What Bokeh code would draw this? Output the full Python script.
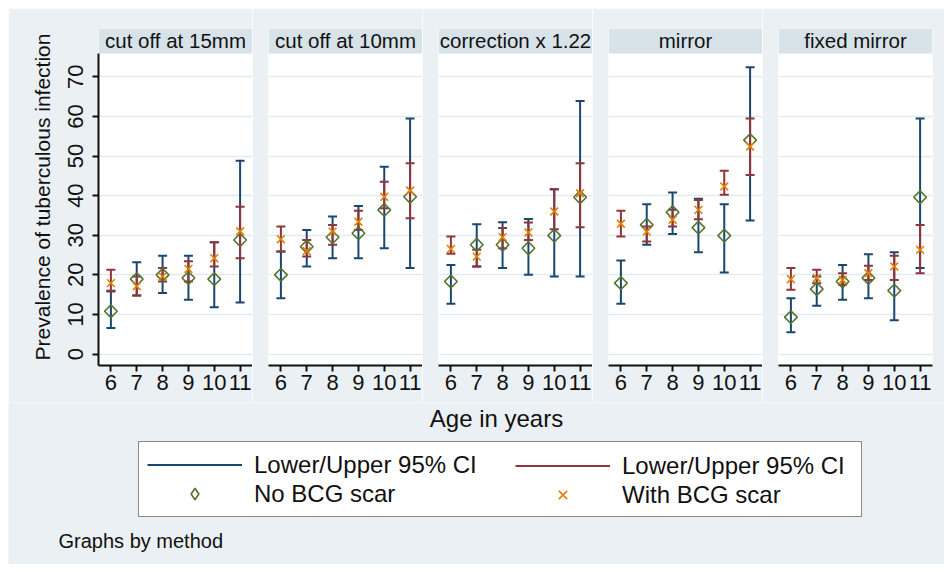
import numpy as np
from bokeh.plotting import figure
from bokeh.models import (ColumnDataSource, Whisker, TeeHead, Label, Legend, LegendItem,
                          Range1d, FixedTicker, BoxAnnotation, Spacer)
from bokeh.layouts import row, column
from bokeh.embed import file_html
from bokeh.resources import INLINE

# ---------------- data ----------------
methods = ["cut off at 15mm", "cut off at 10mm", "correction x 1.22", "mirror", "fixed mirror"]
ages = [6, 7, 8, 9, 10, 11]
y_ticks = [0, 10, 20, 30, 40, 50, 60, 70]

# No BCG scar (one row per method)
no_scar_est = [
    [10.8, 18.9, 20.0, 19.2, 18.9, 28.8],
    [20.0, 27.1, 29.5, 30.5, 36.4, 39.7],
    [18.3, 27.6, 27.6, 26.7, 29.9, 39.6],
    [17.9, 32.6, 35.8, 31.9, 29.9, 54.0],
    [9.3, 16.4, 18.3, 19.2, 16.0, 39.6],
]
no_scar_lo = [
    [6.6, 14.8, 15.4, 13.7, 11.8, 13.0],
    [14.1, 22.1, 24.2, 24.2, 26.7, 21.7],
    [12.7, 22.1, 21.7, 20.0, 19.6, 19.6],
    [12.7, 27.6, 30.3, 25.7, 20.6, 33.7],
    [5.5, 12.2, 13.7, 14.1, 8.5, 21.7],
]
no_scar_hi = [
    [16.0, 23.2, 24.8, 24.8, 28.2, 48.8],
    [25.9, 31.3, 34.7, 37.4, 47.3, 59.5],
    [22.5, 32.8, 33.3, 34.1, 41.6, 63.9],
    [23.6, 37.8, 40.8, 39.2, 37.8, 72.4],
    [14.1, 19.6, 22.5, 25.2, 25.7, 59.5],
]
# With BCG scar
scar_est = [
    [17.9, 17.1, 19.6, 21.5, 24.2, 31.0],
    [29.0, 26.0, 30.9, 33.4, 39.7, 41.3],
    [26.5, 24.6, 29.5, 30.7, 36.0, 40.6],
    [32.9, 30.9, 33.9, 36.4, 42.3, 52.4],
    [18.9, 19.2, 18.7, 20.4, 22.1, 26.3],
]
scar_lo = [
    [15.8, 14.8, 18.3, 18.3, 22.1, 24.2],
    [25.9, 24.6, 27.6, 31.3, 36.8, 34.3],
    [25.3, 22.1, 26.7, 28.8, 31.5, 32.0],
    [29.7, 28.4, 32.2, 34.0, 40.2, 45.2],
    [16.2, 17.9, 17.5, 18.7, 18.7, 20.4],
]
scar_hi = [
    [21.3, 19.6, 21.7, 23.4, 28.2, 37.2],
    [32.2, 28.8, 32.6, 36.2, 43.5, 48.2],
    [29.7, 26.3, 31.8, 33.2, 41.6, 48.2],
    [36.2, 32.2, 36.4, 38.9, 46.3, 59.5],
    [21.7, 21.3, 20.4, 22.3, 24.8, 32.6],
]

# ---------------- style ----------------
BG = "#eaf0f3"
STRIP = "#d7e2e9"
GRID = "#e3eaee"
NAVY = "#1a476f"
MAROON = "#90353b"
GREEN = "#55752f"
ORANGE = "#e37e00"
FONT = "Liberation Sans"
AXC = "#111111"
TXT = "#111111"

Y0, Y1 = -2.9, 82.2
STRIP_BOTTOM = 75.9
X0, X1 = 5.52, 11.48

figs = []
for i, m in enumerate(methods):
    first = i == 0
    last = i == len(methods) - 1
    w = 244 if first else (182 if last else 170)
    p = figure(width=w, height=394, x_range=Range1d(X0, X1), y_range=Range1d(Y0, Y1),
               output_backend="svg", toolbar_location=None,
               min_border_left=90 if first else 16, min_border_right=12 if last else 0,
               min_border_top=20, min_border_bottom=37,
               background_fill_color="white", border_fill_color=BG,
               outline_line_color=None)

    # strip with panel title
    p.add_layout(BoxAnnotation(bottom=STRIP_BOTTOM, fill_color=STRIP, fill_alpha=1,
                               line_color=None, level="underlay"))
    p.add_layout(Label(x=(X0 + X1) / 2, y=(STRIP_BOTTOM + Y1) / 2, text=m,
                       text_align="center", text_baseline="middle",
                       text_font=FONT, text_font_size="20.5px", text_color=TXT))

    # x axis
    p.xaxis.ticker = FixedTicker(ticks=ages)
    p.xaxis.major_label_text_font = FONT
    p.xaxis.major_label_text_font_size = "22px"
    p.xaxis.major_label_text_color = TXT
    p.xaxis.major_label_standoff = 3
    p.xaxis.axis_line_width = 2
    p.xaxis.axis_line_color = AXC
    p.xaxis.major_tick_line_width = 2
    p.xaxis.major_tick_line_color = AXC
    p.xaxis.major_tick_out = 6
    p.xaxis.major_tick_in = 0
    p.xaxis.minor_tick_line_color = None
    p.xgrid.visible = False

    # y axis / grid
    p.ygrid.ticker = FixedTicker(ticks=y_ticks)
    p.ygrid.grid_line_color = GRID
    p.ygrid.grid_line_width = 1.5
    if first:
        p.yaxis.ticker = FixedTicker(ticks=y_ticks)
        p.yaxis.bounds = (Y0, STRIP_BOTTOM)
        p.yaxis.major_label_orientation = "vertical"
        p.yaxis.major_label_text_font = FONT
        p.yaxis.major_label_text_font_size = "22px"
        p.yaxis.major_label_text_color = TXT
        p.yaxis.major_label_standoff = 9
        p.yaxis.axis_line_width = 2
        p.yaxis.axis_line_color = AXC
        p.yaxis.major_tick_line_width = 2
        p.yaxis.major_tick_line_color = AXC
        p.yaxis.major_tick_out = 6
        p.yaxis.major_tick_in = 0
        p.yaxis.minor_tick_line_color = None
        p.yaxis.axis_label = "Prevalence of tuberculous infection"
        p.yaxis.axis_label_text_font = FONT
        p.yaxis.axis_label_text_font_size = "21px"
        p.yaxis.axis_label_text_font_style = "normal"
        p.yaxis.axis_label_text_color = TXT
        p.yaxis.axis_label_standoff = 12
    else:
        p.yaxis.visible = False

    src_no = ColumnDataSource(dict(x=ages, est=no_scar_est[i], lo=no_scar_lo[i], hi=no_scar_hi[i]))
    src_sc = ColumnDataSource(dict(x=ages, est=scar_est[i], lo=scar_lo[i], hi=scar_hi[i]))

    for src, col in ((src_no, NAVY), (src_sc, MAROON)):
        p.add_layout(Whisker(source=src, base="x", lower="lo", upper="hi", dimension="height",
                             line_color=col, line_width=2,
                             upper_head=TeeHead(size=9, line_color=col, line_width=2),
                             lower_head=TeeHead(size=9, line_color=col, line_width=2)))

    p.scatter("x", "est", source=src_no, marker="square", angle=np.pi / 4, size=9,
              fill_color=None, line_color=GREEN, line_width=1.6)
    p.scatter("x", "est", source=src_sc, marker="x", size=11,
              line_color=ORANGE, line_width=1.6)
    figs.append(p)

# ---------------- bottom: x title, legend, note ----------------
b = figure(width=936, height=162, x_range=Range1d(0, 936), y_range=Range1d(0, 162),
           output_backend="svg", toolbar_location=None, min_border=0,
           x_axis_type=None, y_axis_type=None,
           background_fill_color=BG, border_fill_color=BG, outline_line_color=None)
b.grid.visible = False
# the legend's renderers carry the first panel's data on a range that lies outside the frame
b.extra_y_ranges = {"legend_only": Range1d(1000, 1100)}

b.add_layout(Label(x=488, y=146, text="Age in years", text_align="center",
                   text_baseline="middle", text_font=FONT, text_font_size="24px",
                   text_color=TXT))
b.add_layout(Label(x=50, y=24, text="Graphs by method", text_align="left",
                   text_baseline="middle", text_font=FONT, text_font_size="20px",
                   text_color=TXT))

leg_no = ColumnDataSource(dict(x=ages, est=no_scar_est[0], lo=no_scar_lo[0], hi=no_scar_hi[0]))
leg_sc = ColumnDataSource(dict(x=ages, est=scar_est[0], lo=scar_lo[0], hi=scar_hi[0]))
r_blue = b.segment(x0="x", y0="lo", x1="x", y1="hi", source=leg_no, y_range_name="legend_only",
                   line_color=NAVY, line_width=2)
r_red = b.segment(x0="x", y0="lo", x1="x", y1="hi", source=leg_sc, y_range_name="legend_only",
                  line_color=MAROON, line_width=2)
r_green = b.scatter("x", "est", source=leg_no, y_range_name="legend_only",
                    marker="diamond", size=12,
                    fill_color=None, line_color=GREEN, line_width=1.6)
r_orange = b.scatter("x", "est", source=leg_sc, y_range_name="legend_only",
                     marker="x", size=10, line_color=ORANGE, line_width=1.6)

common = dict(label_text_font=FONT, label_text_font_size="24px", label_text_color=TXT,
              glyph_width=95, glyph_height=29, label_height=29, spacing=0, padding=8,
              margin=0, label_standoff=12)
legend_a = Legend(items=[
    LegendItem(label="Lower/Upper 95% CI", renderers=[r_blue]),
    LegendItem(label="No BCG scar", renderers=[r_green]),
], location=(130, 47), label_width=599,
    border_line_color="#111111", border_line_width=1.5, background_fill_color="white",
    background_fill_alpha=1, **common)
legend_b = Legend(items=[
    LegendItem(label="Lower/Upper 95% CI", renderers=[r_red]),
    LegendItem(label="With BCG scar", renderers=[r_orange]),
], location=(499, 47), border_line_alpha=0, background_fill_alpha=0, **common)
b.add_layout(legend_a)
b.add_layout(legend_b)

content = column(row(*figs), b)
layout = row(Spacer(width=8), column(Spacer(height=8), content))
open("out.html", "w").write(file_html(layout, INLINE))
